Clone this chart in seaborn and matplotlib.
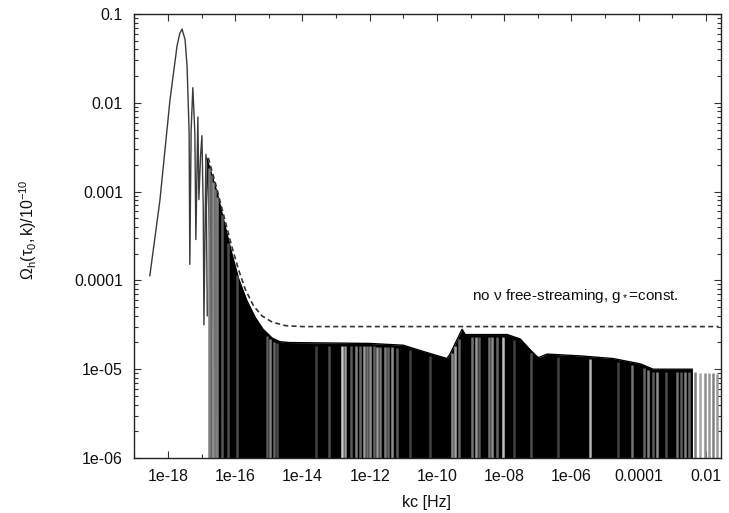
import numpy as np
import pandas as pd
import matplotlib
matplotlib.use("Agg")
import matplotlib.pyplot as plt
import seaborn as sns
from matplotlib.ticker import FixedLocator, FixedFormatter, NullFormatter, LogLocator

# ---------------- data (log10 values) ----------------
# first, resolved oscillations of the solid curve
early_logk = [-18.54, -18.24, -17.94, -17.73, -17.65, -17.58, -17.49, -17.43, -17.37,
              -17.35, -17.31, -17.26, -17.20, -17.17, -17.11, -17.08, -17.03, -16.99,
              -16.95, -16.93, -16.87, -16.83]
early_logom = [-3.95, -3.10, -1.97, -1.36, -1.22, -1.17, -1.29, -1.60, -2.34,
               -3.82, -2.30, -1.83, -2.34, -3.54, -2.16, -3.09, -2.60, -2.37,
               -3.20, -4.50, -2.58, -4.40]

# upper envelope of the densely oscillating (black) part of the solid curve
env_logk = [-16.85, -16.81, -16.54, -16.30, -16.10, -15.90, -15.65, -15.40, -15.17,
            -14.90, -14.67, -14.40, -12.00, -11.00, -10.41, -9.70, -9.61, -9.25,
            -9.16, -7.91, -7.52, -7.23, -6.99, -6.72, -5.74, -4.76, -3.95, -3.57,
            -2.40]
env_logom = [-2.62, -2.67, -3.01, -3.39, -3.70, -3.98, -4.23, -4.42, -4.55,
             -4.65, -4.69, -4.70, -4.71, -4.73, -4.80, -4.88, -4.83, -4.55,
             -4.61, -4.61, -4.66, -4.78, -4.87, -4.83, -4.85, -4.88, -4.94, -5.00,
             -5.00]
# lower edge of the black part (troughs)
low_logk = [-16.85, -16.75, -16.60, -16.50, -2.40]
low_logom = [-2.90, -4.00, -5.20, -6.50, -6.50]

# lighter streaks inside the oscillating band (log10 k, grey level)
streak_logk = [-16.78, -16.72, -16.66, -16.60, -16.53, -16.40, -16.20, -15.95,
               -15.05, -14.95, -14.85, -14.75, -13.60, -13.20,
               -12.82, -12.73, -12.55, -12.40, -12.28, -12.18, -12.08, -11.98, -11.88,
               -11.78, -11.68, -11.55, -11.45, -11.35, -11.20, -10.80, -10.20,
               -9.55, -9.45, -9.35, -8.95, -8.85, -8.75, -8.45, -8.35, -8.22, -8.02,
               -7.70, -7.20, -6.40, -5.45, -4.60, -4.20, -3.85, -3.72, -3.58, -3.45,
               -3.20, -2.85, -2.75, -2.62, -2.50,
               -2.32, -2.16, -2.02, -1.90, -1.78, -1.66]
streak_grey = [0.50, 0.40, 0.55, 0.45, 0.50, 0.35, 0.30, 0.30,
               0.35, 0.50, 0.40, 0.30, 0.25, 0.30,
               0.80, 0.60, 0.35, 0.50, 0.40, 0.60, 0.45, 0.55, 0.40,
               0.60, 0.45, 0.50, 0.40, 0.55, 0.35, 0.25, 0.25,
               0.55, 0.65, 0.40, 0.45, 0.60, 0.35, 0.45, 0.55, 0.40, 0.75,
               0.25, 0.30, 0.25, 0.70, 0.25, 0.45, 0.40, 0.50, 0.35, 0.55,
               0.30, 0.45, 0.35, 0.50, 0.40,
               0.50, 0.65, 0.55, 0.60, 0.50, 0.60]

# dashed curve: no neutrino free-streaming, g* = const
dash_logk = [-16.80, -16.55, -16.30, -16.10, -15.90, -15.70, -15.45, -15.20,
             -14.90, -14.50, -14.00, -1.62]
dash_logom = [-2.62, -2.96, -3.33, -3.62, -3.88, -4.10, -4.29, -4.40,
              -4.47, -4.51, -4.52, -4.52]

xtick_vals = [1e-18, 1e-16, 1e-14, 1e-12, 1e-10, 1e-8, 1e-6, 1e-4, 1e-2]
xtick_labels = ["1e-18", "1e-16", "1e-14", "1e-12", "1e-10", "1e-08", "1e-06", "0.0001", "0.01"]
ytick_vals = [1e-6, 1e-5, 1e-4, 1e-3, 1e-2, 1e-1]
ytick_labels = ["1e-06", "1e-05", "0.0001", "0.001", "0.01", "0.1"]

# ---------------- figure ----------------
sns.set_style("ticks")
plt.rcParams["font.family"] = ["Liberation Sans", "DejaVu Sans"]
plt.rcParams["mathtext.fontset"] = "custom"
plt.rcParams["mathtext.rm"] = "Liberation Sans"
plt.rcParams["mathtext.it"] = "Liberation Sans"

W, H = 729, 513
fig = plt.figure(figsize=(W / 100, H / 100), dpi=100)
L, R, T, B = 134, 721, 14, 458
ax = fig.add_axes([L / W, 1 - B / H, (R - L) / W, (B - T) / H])
ax.set_xscale("log")
ax.set_yscale("log")

early = pd.DataFrame({"k": np.power(10.0, early_logk), "om": np.power(10.0, early_logom)})
env = pd.DataFrame({"k": np.power(10.0, env_logk), "om": np.power(10.0, env_logom)})
dash = pd.DataFrame({"k": np.power(10.0, dash_logk), "om": np.power(10.0, dash_logom)})

# black oscillating band
fk = np.logspace(env_logk[0], env_logk[-1], 2000)
upper = np.power(10.0, np.interp(np.log10(fk), env_logk, env_logom))
lower = np.power(10.0, np.interp(np.log10(fk), low_logk, low_logom))
ax.fill_between(fk, lower, upper, color="black", lw=0, zorder=1)
sns.lineplot(data=env, x="k", y="om", ax=ax, color="black", lw=1.0,
             sort=False, estimator=None, zorder=2)

# lighter streaks
for lk, g in zip(streak_logk, streak_grey):
    top = 10 ** np.interp(lk, env_logk + [-1.6], env_logom + [-5.02])
    ax.vlines(10 ** lk, 1e-7, top * 0.93, color=str(g), lw=1.8, zorder=2)

# resolved oscillations
sns.lineplot(data=early, x="k", y="om", ax=ax, color="#3a3a3a", lw=1.0,
             sort=False, estimator=None, zorder=3)

# dashed envelope
sns.lineplot(data=dash, x="k", y="om", ax=ax, color="#333333", lw=1.2,
             sort=False, estimator=None, zorder=4)
ax.lines[-1].set_dashes([3, 2])

ax.set_xlim(10 ** -19.01, 10 ** -1.55)
ax.set_ylim(1e-6, 0.1)

ax.xaxis.set_major_locator(FixedLocator(xtick_vals))
ax.xaxis.set_major_formatter(FixedFormatter(xtick_labels))
ax.xaxis.set_minor_locator(FixedLocator([10.0 ** e for e in range(-19, -1, 2)]))
ax.xaxis.set_minor_formatter(NullFormatter())
ax.yaxis.set_major_locator(FixedLocator(ytick_vals))
ax.yaxis.set_major_formatter(FixedFormatter(ytick_labels))
ax.yaxis.set_minor_locator(LogLocator(base=10, subs=np.arange(2, 10)))
ax.yaxis.set_minor_formatter(NullFormatter())

ax.tick_params(which="both", direction="in", top=True, right=True, color="#333333",
               width=0.8)
ax.tick_params(which="major", length=5, labelsize=11.5, pad=8, labelcolor="#111111")
ax.tick_params(which="minor", length=3)
for s in ax.spines.values():
    s.set_linewidth(1.0)
    s.set_color("#222222")
    s.set_visible(True)

ax.set_xlabel("")
ax.set_ylabel("")
fig.text(427 / W, 1 - 503 / H, "kc [Hz]", ha="center", va="center", fontsize=11.5,
         color="#111111")
fig.text(28 / W, 1 - 230 / H, r"$\mathregular{\Omega_h(\tau_0,k)/10^{-10}}$",
         rotation=90, ha="center", va="center", fontsize=11.5, color="#111111")
ax.text(10 ** -2.82, 10 ** -4.18, r"no $\mathregular{\nu}$ free-streaming, g$_*$=const.",
        ha="right", va="center", fontsize=11, color="#111111", zorder=5)

fig.savefig("out.png", dpi=100)
